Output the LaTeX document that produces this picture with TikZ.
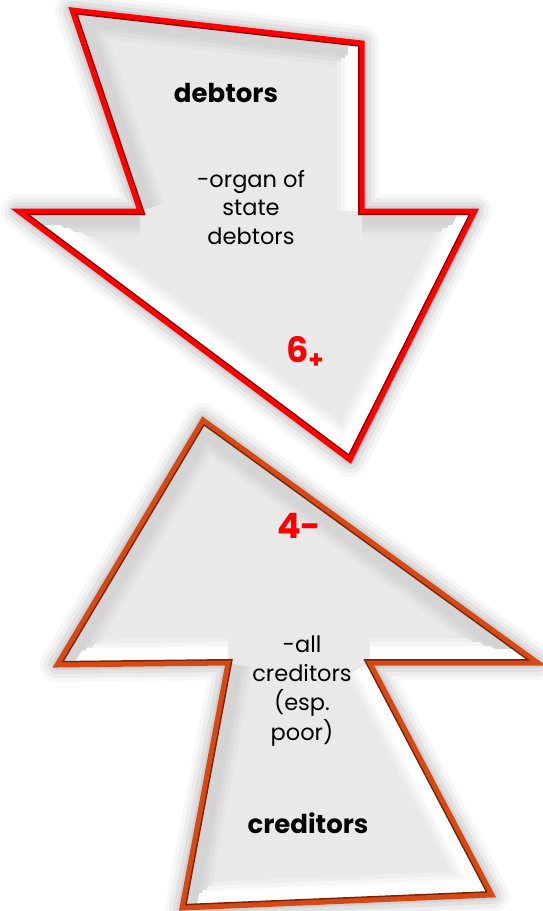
\documentclass[tikz,border=0pt]{standalone}
\usepackage{fontspec}
\setmainfont{Poppins}
\begin{document}
\begin{tikzpicture}[x=1pt,y=-1pt,
  bev/.style={line width=#1, line cap=butt},
  body/.style={anchor=base, inner sep=0, font=\fontsize{22.5}{22.5}\selectfont},
  boldlbl/.style={anchor=base, inner sep=0, font=\fontsize{26}{26}\selectfont\bfseries},
  num/.style={anchor=base, inner sep=0, text=numred, font=\fontsize{35}{35}\selectfont\bfseries}]
\definecolor{numred}{RGB}{255,0,0}
\definecolor{topred}{RGB}{255,0,0}
\definecolor{topdark}{RGB}{150,0,0}
\definecolor{brn}{RGB}{214,72,20}
\definecolor{brndark}{RGB}{120,35,8}
\definecolor{face}{RGB}{233,233,233}
\definecolor{shd}{RGB}{212,212,212}
\useasboundingbox (0,0) rectangle (542,911);
\fill[white] (0,0) rectangle (542,911);

% named corner coordinates
\coordinate (t1) at (72,10);
\coordinate (t2) at (362,43);
\coordinate (t3) at (362,211);
\coordinate (t4) at (475,211);
\coordinate (t5) at (350,460);
\coordinate (t6) at (18,211);
\coordinate (t7) at (140,211);

\coordinate (b1) at (203,420);
\coordinate (b2) at (538,663);
\coordinate (b3) at (370,663);
\coordinate (b4) at (492,895);
\coordinate (b5) at (182,908);
\coordinate (b6) at (228,663);
\coordinate (b7) at (57,665);

\def\toparrow{(t1) -- (t2) -- (t3) -- (t4) -- (t5) -- (t6) -- (t7) -- cycle}
\def\botarrow{(b1) -- (b2) -- (b3) -- (b4) -- (b5) -- (b6) -- (b7) -- cycle}

% soft shadows
\foreach \w/\o in {34/0.03,26/0.04,18/0.05,10/0.06}{
  \draw[line width=\w, line join=round, black, opacity=\o, shift={(3,4)}] \toparrow;
  \draw[line width=\w, line join=round, black, opacity=\o, shift={(3,4)}] \botarrow;
}

% faces
\fill[face] \toparrow;
\fill[face] \botarrow;

% bevels top arrow
\begin{scope}
\clip \toparrow;
\foreach \w/\p in {50/25,42/55,34/85,28/100}{
\draw[bev=\w, shd!\p!face] (t1) -- (t2);
\draw[bev=\w, white!\p!face] (t2) -- (t3);
\draw[bev=\w, shd!\p!face] (t3) -- (t4);
\draw[bev=\w, white!\p!face] (t4) -- (t5);
\draw[bev=\w, white!\p!face] (t5) -- (t6);
\draw[bev=\w, shd!\p!face] (t6) -- (t7);
\draw[bev=\w, shd!\p!face] (t7) -- (t1);
}
\draw[line width=8, topdark] \toparrow;
\end{scope}
\draw[line width=5, topred, line join=miter] \toparrow;

% bevels bottom arrow
\begin{scope}
\clip \botarrow;
\foreach \w/\p in {50/25,42/55,34/85,28/100}{
\draw[bev=\w, shd!\p!face] (b1) -- (b2);
\draw[bev=\w, white!\p!face] (b2) -- (b3);
\draw[bev=\w, white!\p!face] (b3) -- (b4);
\draw[bev=\w, white!\p!face] (b4) -- (b5);
\draw[bev=\w, shd!\p!face] (b5) -- (b6);
\draw[bev=\w, white!\p!face] (b6) -- (b7);
\draw[bev=\w, shd!\p!face] (b7) -- (b1);
}
\draw[line width=8, brndark] \botarrow;
\end{scope}
\draw[line width=5, brn, line join=miter] \botarrow;

% texts
\node[boldlbl] (debt) at (226,102) {debtors};
\node[body] (organ1) at (251,187) {-organ of};
\node[body] (organ2) at (251,215.5) {state};
\node[body] (organ3) at (251,244) {debtors};
\node[num, anchor=base west] (six) at (286,362) {6\textsubscript{+}};
\node[num, anchor=base west] (four) at (277,538) {4-};
\node[body] (all1) at (302,652) {-all};
\node[body] (all2) at (302,681) {creditors};
\node[body] (all3) at (302,710.5) {(esp.};
\node[body] (all4) at (302,740) {poor)};
\node[boldlbl] (cred) at (308,833) {creditors};
\end{tikzpicture}
\end{document}
